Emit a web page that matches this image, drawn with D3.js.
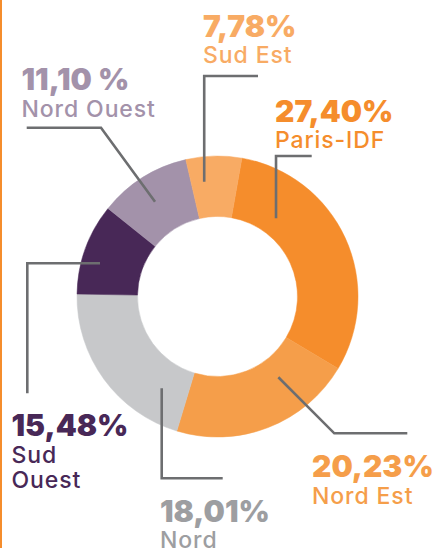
<!DOCTYPE html>
<html>
<head>
<meta charset="utf-8">
<script src="https://cdn.jsdelivr.net/npm/d3@7"></script>
<style>
  html, body { margin: 0; padding: 0; background: #fff; }
  svg { display: block; }
</style>
</head>
<body>
<div id="chart"></div>
<script>
// Regions, in drawing order (clockwise from Paris-IDF)
var regions = ["Paris-IDF", "Nord Est", "Nord", "Sud Ouest", "Nord Ouest", "Sud Est"];
// Printed labels
var pctLabels = ["27,40%", "20,23%", "18,01%", "15,48%", "11,10 %", "7,78%"];
var shares = [30.8, 21.1, 20.6, 10.5, 10.6, 6.4];

var sliceColors = ["#F58D2C", "#F59E4A", "#C7C8CA", "#482857", "#A392AA", "#F8AB64"];
var textColors  = ["#F58D2C", "#F59E4A", "#9D9EA1", "#482857", "#A392AA", "#F8AB64"];

var width = 434, height = 548;
var cx = 217.5, cy = 296.5, outerR = 140.5, innerR = 80;

// label placement (x, baseline of percent, name lines)
var labelPos = [
  { x: 275,  y: 121.5, lines: ["Paris-IDF"] },
  { x: 312,  y: 477,   lines: ["Nord Est"] },
  { x: 160,  y: 521.5, lines: ["Nord"] },
  { x: 11.5, y: 436,   lines: ["Sud", "Ouest"] },
  { x: 21.5, y: 90,    lines: ["Nord Ouest"] },
  { x: 203,  y: 36.5,  lines: ["Sud Est"] }
];

// leader lines: start inside slice (angle in deg, radius), then moves
var leaders = [
  { a: 36.8,  r: 97.7,  moves: [["v", 156], ["h", 311.7]] },
  { a: 143,   r: 101.1, moves: [["p", 334.3, 433.3], ["h", 407.3]] },
  { a: 211.3, r: 107.4, moves: [["v", 478.3], ["h", 222.7]] },
  { a: 285.8, r: 122.1, moves: [["h", 27.3], ["v", 393.3]] },
  { a: 326.6, r: 113.5, moves: [["p", 101, 127.7], ["h", 26.7]] },
  { a: 353.4, r: 115.6, moves: [["v", 76], ["h", 258]] }
];

var svg = d3.select("#chart")
  .append("svg")
    .attr("width", width)
    .attr("height", height);

// orange rule on the left edge
svg.append("rect")
  .attr("x", 0).attr("y", 0)
  .attr("width", 2).attr("height", height)
  .attr("fill", "#F58D2C");

var data = regions.map(function(r, i) {
  return { region: r, share: shares[i], pct: pctLabels[i], i: i };
});

var pie = d3.pie()
  .sort(null)
  .value(function(d) { return d.share; })
  .startAngle(10 * Math.PI / 180)
  .endAngle(370 * Math.PI / 180);

var arc = d3.arc().innerRadius(innerR).outerRadius(outerR);

var g = svg.append("g").attr("transform", "translate(" + cx + "," + cy + ")");

g.selectAll("path.slice")
  .data(pie(data))
  .enter()
  .append("path")
    .attr("class", "slice")
    .attr("d", arc)
    .attr("fill", function(d) { return sliceColors[d.data.i]; })
    .attr("stroke", function(d) { return sliceColors[d.data.i]; })
    .attr("stroke-width", 0.5);

// leader lines
var line = d3.line();
leaders.forEach(function(l) {
  var rad = l.a * Math.PI / 180;
  var p = [cx + l.r * Math.sin(rad), cy - l.r * Math.cos(rad)];
  var pts = [p];
  l.moves.forEach(function(m) {
    var last = pts[pts.length - 1];
    if (m[0] == "v") pts.push([last[0], m[1]]);
    else if (m[0] == "h") pts.push([m[1], last[1]]);
    else pts.push([m[1], m[2]]);
  });
  svg.append("path")
    .attr("d", line(pts))
    .attr("fill", "none")
    .attr("stroke", "#6D6E70")
    .attr("stroke-width", 2.6);
});

// labels
data.forEach(function(d, i) {
  var pos = labelPos[i];
  svg.append("text")
    .attr("x", pos.x)
    .attr("y", pos.y)
    .attr("fill", textColors[i])
    .attr("font-family", "Inter, Lato, sans-serif")
    .attr("font-weight", 900)
    .attr("font-size", "30px")
    .attr("letter-spacing", "0px")
    .text(d.pct);
  pos.lines.forEach(function(t, k) {
    svg.append("text")
      .attr("x", pos.x)
      .attr("y", pos.y + 26.5 + k * 25.5)
      .attr("fill", textColors[i])
      .attr("font-family", "Inter, Lato, sans-serif")
      .attr("font-weight", 500)
      .attr("font-size", "23px")
      .attr("letter-spacing", "0.9px")
      .text(t);
  });
});
</script>
</body>
</html>
